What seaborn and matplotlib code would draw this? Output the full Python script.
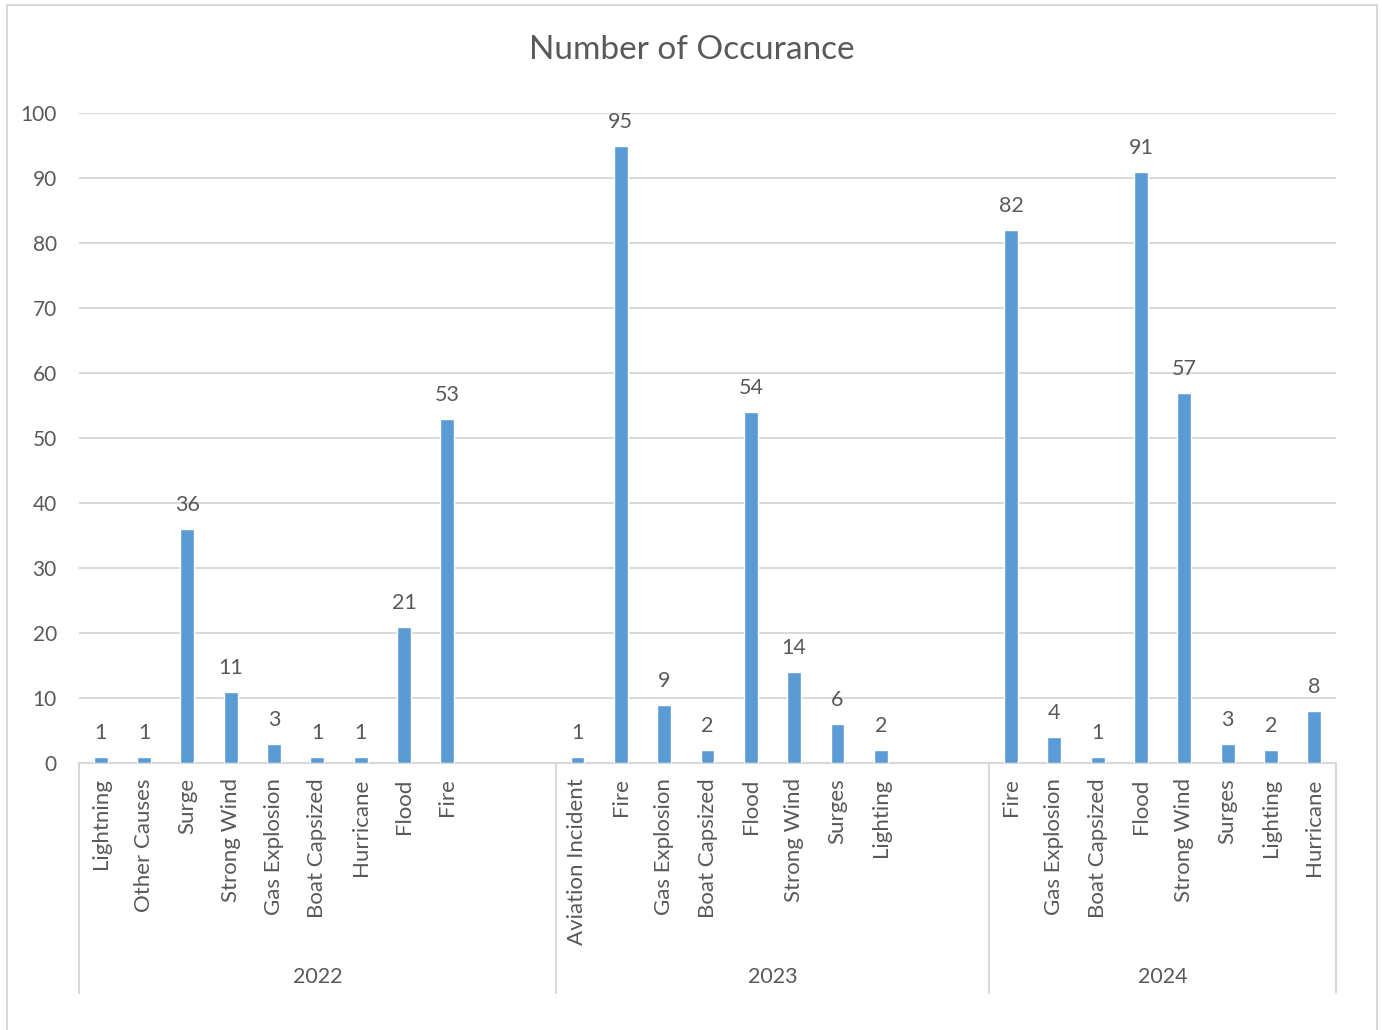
import numpy as np
import pandas as pd
import matplotlib
matplotlib.use("Agg")
import matplotlib.pyplot as plt
import seaborn as sns
from matplotlib.patches import Rectangle
import matplotlib.transforms as mtransforms

# ---- data ----
years = ["2022", "2023", "2024"]
cats_2022 = ["Lightning", "Other Causes", "Surge", "Strong Wind", "Gas Explosion",
             "Boat Capsized", "Hurricane", "Flood", "Fire"]
vals_2022 = [1, 1, 36, 11, 3, 1, 1, 21, 53]
cats_2023 = ["Aviation Incident", "Fire", "Gas Explosion", "Boat Capsized", "Flood",
             "Strong Wind", "Surges", "Lighting"]
vals_2023 = [1, 95, 9, 2, 54, 14, 6, 2]
cats_2024 = ["Fire", "Gas Explosion", "Boat Capsized", "Flood", "Strong Wind",
             "Surges", "Lighting", "Hurricane"]
vals_2024 = [82, 4, 1, 91, 57, 3, 2, 8]
title = "Number of Occurance"

# empty category slots after each year's group (blank rows in source table)
blank_slots = [2, 2, 0]

sns.set_theme(style="white")
plt.rcParams["font.family"] = ["Lato", "DejaVu Sans"]

TXT = "#595959"
BAR = "#5B9BD5"
GRID = "#D9D9D9"

rows = []
slot = 0
group_bounds = [-0.5]
group_centers = []
for yr, cats, vals, nb in zip(years, [cats_2022, cats_2023, cats_2024],
                              [vals_2022, vals_2023, vals_2024], blank_slots):
    start = slot
    for c, v in zip(cats, vals):
        rows.append({"slot": f"s{slot}", "label": c, "value": v, "year": yr})
        slot += 1
    for _ in range(nb):
        rows.append({"slot": f"s{slot}", "label": "", "value": np.nan, "year": yr})
        slot += 1
    group_bounds.append(slot - 0.5)
    group_centers.append((start - 0.5 + slot - 0.5) / 2)
df = pd.DataFrame(rows)
order = list(df["slot"])

fig = plt.figure(figsize=(13.82, 10.30), dpi=100)
W, H = 1382, 1030
ax = fig.add_axes([79 / W, 1 - 763 / H, (1336 - 79) / W, (763 - 113) / H])

sns.barplot(data=df, x="slot", y="value", order=order, color=BAR, width=0.32,
            saturation=1, ax=ax, zorder=3)

ax.set_ylim(0, 100)
ax.set_xlim(-0.5, len(order) - 0.5)
ax.set_yticks(range(0, 101, 10))
ax.yaxis.grid(True, color=GRID, linewidth=1.5, zorder=0)
ax.set_axisbelow(True)
for s in ["top", "right", "left"]:
    ax.spines[s].set_visible(False)
ax.spines["bottom"].set_color(GRID)
ax.spines["bottom"].set_linewidth(1.5)

ax.set_xticks(range(len(order)))
ax.set_xticklabels(list(df["label"]), rotation=90, fontsize=16, color=TXT)
ax.tick_params(axis="x", length=0, pad=11)
ax.tick_params(axis="y", length=0, pad=16, labelsize=15, labelcolor=TXT)
ax.set_xlabel("")
ax.set_ylabel("")

for cont in ax.containers:
    labels = [("" if np.isnan(v) else f"{int(v)}") for v in cont.datavalues]
    ax.bar_label(cont, labels=labels, padding=10, fontsize=15.5, color=TXT)

trans = mtransforms.blended_transform_factory(ax.transData, ax.transAxes)
y_low = (763 - 993) / 650
for xb in group_bounds:
    ax.plot([xb, xb], [0, y_low], transform=trans, color=GRID, lw=1.5, clip_on=False)
for yr, xc in zip(years, group_centers):
    ax.text(xc, (763 - 977) / 650, yr, transform=trans, ha="center", va="center",
            fontsize=15.5, color=TXT)

fig.text(692 / W, 1 - 50 / H, title, ha="center", va="center", fontsize=24, color=TXT)

fig.patches.append(Rectangle((7 / W, -0.01), (1377 - 7) / W, 1 - 5 / H + 0.01,
                             transform=fig.transFigure, fill=False, edgecolor=GRID,
                             linewidth=1.5))

fig.savefig("out.png", dpi=100)
